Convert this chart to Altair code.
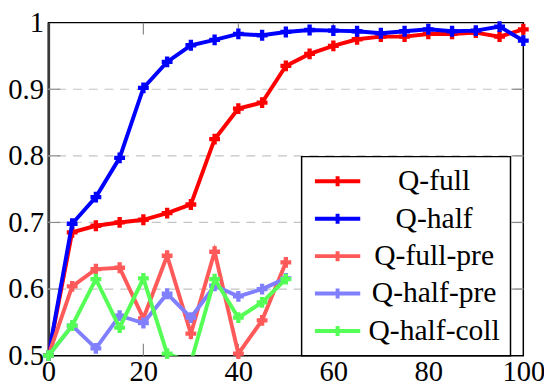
import altair as alt
import pandas as pd

# ---------------- data ----------------
steps_long = list(range(0, 101, 5))
steps_short = list(range(0, 51, 5))

q_full = [0.500, 0.685, 0.695, 0.700, 0.704, 0.714, 0.727, 0.825, 0.871, 0.880, 0.935,
          0.953, 0.965, 0.975, 0.979, 0.979, 0.983, 0.983, 0.985, 0.979, 0.990]
q_half = [0.500, 0.698, 0.738, 0.797, 0.902, 0.941, 0.966, 0.974, 0.983, 0.981, 0.986,
          0.989, 0.988, 0.987, 0.984, 0.987, 0.990, 0.987, 0.988, 0.994, 0.973]
q_full_pre = [0.500, 0.604, 0.630, 0.632, 0.556, 0.650, 0.533, 0.656, 0.503, 0.553, 0.640]
q_half_pre = [0.500, 0.545, 0.511, 0.560, 0.549, 0.593, 0.557, 0.605, 0.589, 0.600, 0.616]
q_half_coll = [0.500, 0.545, 0.615, 0.542, 0.616, 0.503, 0.490, 0.615, 0.557, 0.580, 0.615]

series_names = ["Q-full", "Q-half", "Q-full-pre", "Q-half-pre", "Q-half-coll"]
series_colors = ["#ff0000", "#0000ff", "#ff5a5a", "#8080ff", "#55ff55"]

x_tick_values = [0, 20, 40, 60, 80, 100]
x_inner_ticks = [20, 40, 60, 80]
y_tick_values = [0.5, 0.6, 0.7, 0.8, 0.9, 1.0]
y_grid_values = [0.6, 0.7, 0.8, 0.9]

series_data = [
    ("Q-full", steps_long, q_full),
    ("Q-half", steps_long, q_half),
    ("Q-full-pre", steps_short, q_full_pre),
    ("Q-half-pre", steps_short, q_half_pre),
    ("Q-half-coll", steps_short, q_half_coll),
]

rows = []
for name, xs_, ys_ in series_data:
    for xv, yv in zip(xs_, ys_):
        rows.append({"series": name, "step": xv, "acc": yv})
df = pd.DataFrame(rows)

# ---------------- layout ----------------
W, H = 482, 338
FONT = "Liberation Serif"

x_scale = alt.Scale(domain=[0, 100], nice=False, zero=False)
y_scale = alt.Scale(domain=[0.5, 1.0], nice=False, zero=False)
color_scale = alt.Scale(domain=series_names, range=series_colors)

x_enc = alt.X("step:Q", scale=x_scale,
              axis=alt.Axis(values=x_tick_values, title=None, ticks=False, domain=False,
                            grid=False, labelFont=FONT, labelFontSize=29, labelColor="black",
                            labelPadding=2, labelFlush=False, labelOverlap=False))
y_enc = alt.Y("acc:Q", scale=y_scale,
              axis=alt.Axis(values=y_tick_values, title=None, ticks=False, domain=True,
                            domainColor="#3a3a3a", domainWidth=2.5, grid=False,
                            labelFont=FONT, labelFontSize=29, labelColor="black",
                            labelPadding=5, labelFlush=False, labelOverlap=False,
                            labelExpr="datum.value == 1 ? '1' : format(datum.value, '.1f')"))

legend = alt.Legend(title=None, orient="none", legendX=257, legendY=136,
                    direction="vertical",
                    symbolType="M-2,0H2M0,-0.44V0.44", symbolSize=529,
                    symbolOffset=11.5, symbolStrokeWidth=4,
                    labelFont=FONT, labelFontSize=30, labelColor="black",
                    labelAlign="center", labelOffset=83, labelLimit=0,
                    rowPadding=8, padding=10,
                    strokeColor="black", fillColor="white")

grid = alt.Chart(pd.DataFrame({"acc": y_grid_values})).mark_rule(
    color="#c4c4c4", strokeWidth=1.2, strokeDash=[9, 7]
).encode(y=y_enc)

tick_color = "#888888"
ticks_left = alt.Chart(pd.DataFrame({"acc": y_grid_values})).mark_rule(
    color=tick_color, strokeWidth=1.2
).encode(y=y_enc, x=alt.value(0), x2=alt.value(12))
ticks_right = alt.Chart(pd.DataFrame({"acc": y_grid_values})).mark_rule(
    color=tick_color, strokeWidth=1.2
).encode(y=y_enc, x=alt.value(W), x2=alt.value(W - 12))
ticks_bottom = alt.Chart(pd.DataFrame({"step": x_inner_ticks})).mark_rule(
    color=tick_color, strokeWidth=1.2
).encode(x=x_enc, y=alt.value(H), y2=alt.value(H - 12))
ticks_top = alt.Chart(pd.DataFrame({"step": x_inner_ticks})).mark_rule(
    color=tick_color, strokeWidth=1.2
).encode(x=x_enc, y=alt.value(0), y2=alt.value(12))

layers = [grid, ticks_left, ticks_right, ticks_bottom, ticks_top]
for name in series_names:
    base = alt.Chart(df).transform_filter(alt.datum.series == name)
    line = base.mark_line(strokeWidth=4, clip=True).encode(
        x=x_enc, y=y_enc,
        color=alt.Color("series:N", scale=color_scale, legend=legend),
    )
    pts = base.transform_filter(alt.datum.acc >= 0.5).mark_point(
        shape="cross", filled=True, size=121, opacity=1, strokeWidth=0, clip=False
    ).encode(
        x=x_enc, y=y_enc,
        fill=alt.Fill("series:N", scale=color_scale, legend=None),
    )
    layers += [line, pts]

chart = alt.layer(*layers).properties(
    width=W, height=H,
    autosize=alt.AutoSizeParams(type="none"),
    padding={"left": 41, "top": 12, "right": 21, "bottom": 32},
).configure_view(
    stroke="black", strokeWidth=1.5
).configure_legend(
    strokeWidth=1.5, cornerRadius=0
)

chart.save("out.html", embed_options={"renderer": "svg", "actions": False})
